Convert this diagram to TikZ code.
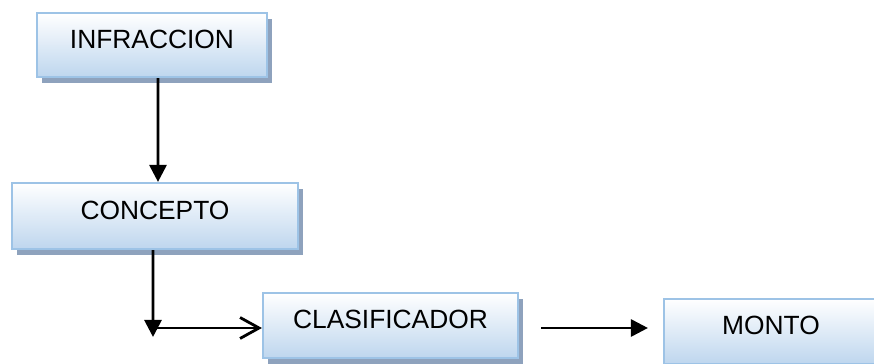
\documentclass[tikz,border=0pt]{standalone}
\usepackage{fontspec}
\setmainfont{Liberation Sans}
\usetikzlibrary{arrows.meta,shadows}

\definecolor{boxborde}{RGB}{157,195,230}
\definecolor{boxfondo}{RGB}{190,214,238}
\definecolor{sombra}{RGB}{142,162,189}

\begin{document}
\begin{tikzpicture}[
  font=\fontsize{15}{18}\selectfont,
  caja/.style={
    draw=boxborde,
    rectangle,
    align=center,
    line width=1.2pt,
    top color=white,
    bottom color=boxfondo,
    text height=10.5pt,
    text depth=7pt,
    minimum height=1.3cm,
    drop shadow={shadow xshift=0.1cm, shadow yshift=-0.12cm, fill=sombra, opacity=1}
  },
  arrow/.style={-{Triangle[length=0.34cm, width=0.34cm]}, line width=1.6pt},
  openarrow/.style={-{Straight Barb[length=0.38cm, width=0.42cm, line width=1.6pt]}, line width=1.6pt}
]
\clip (0,0) rectangle (17.48,-7.28);

\node[caja, minimum width=4.6cm, minimum height=1.28cm] (infraccion) at (3.04,-0.90) {INFRACCION};

\node[caja, minimum width=5.72cm, minimum height=1.32cm] (concepto) at (3.10,-4.32) {CONCEPTO};

\node[caja, minimum width=5.1cm] (clasificador) at (7.81,-6.51) {CLASIFICADOR};

\node[caja, minimum width=4.28cm] (monto) at (15.42,-6.63) {MONTO};

\coordinate (codo) at (3.06,-6.56);

\draw[arrow] ([xshift=0.12cm]infraccion.south) -- ([xshift=0.06cm]concepto.north);
\draw[arrow] ([xshift=-0.04cm]concepto.south) -- ([yshift=-0.18cm]codo);
\draw[openarrow] (codo) -- (clasificador.west |- codo);
\draw[arrow, shorten <=0.44cm, shorten >=0.3cm] (clasificador.east |- codo) -- (monto.west |- codo);

\end{tikzpicture}
\end{document}
